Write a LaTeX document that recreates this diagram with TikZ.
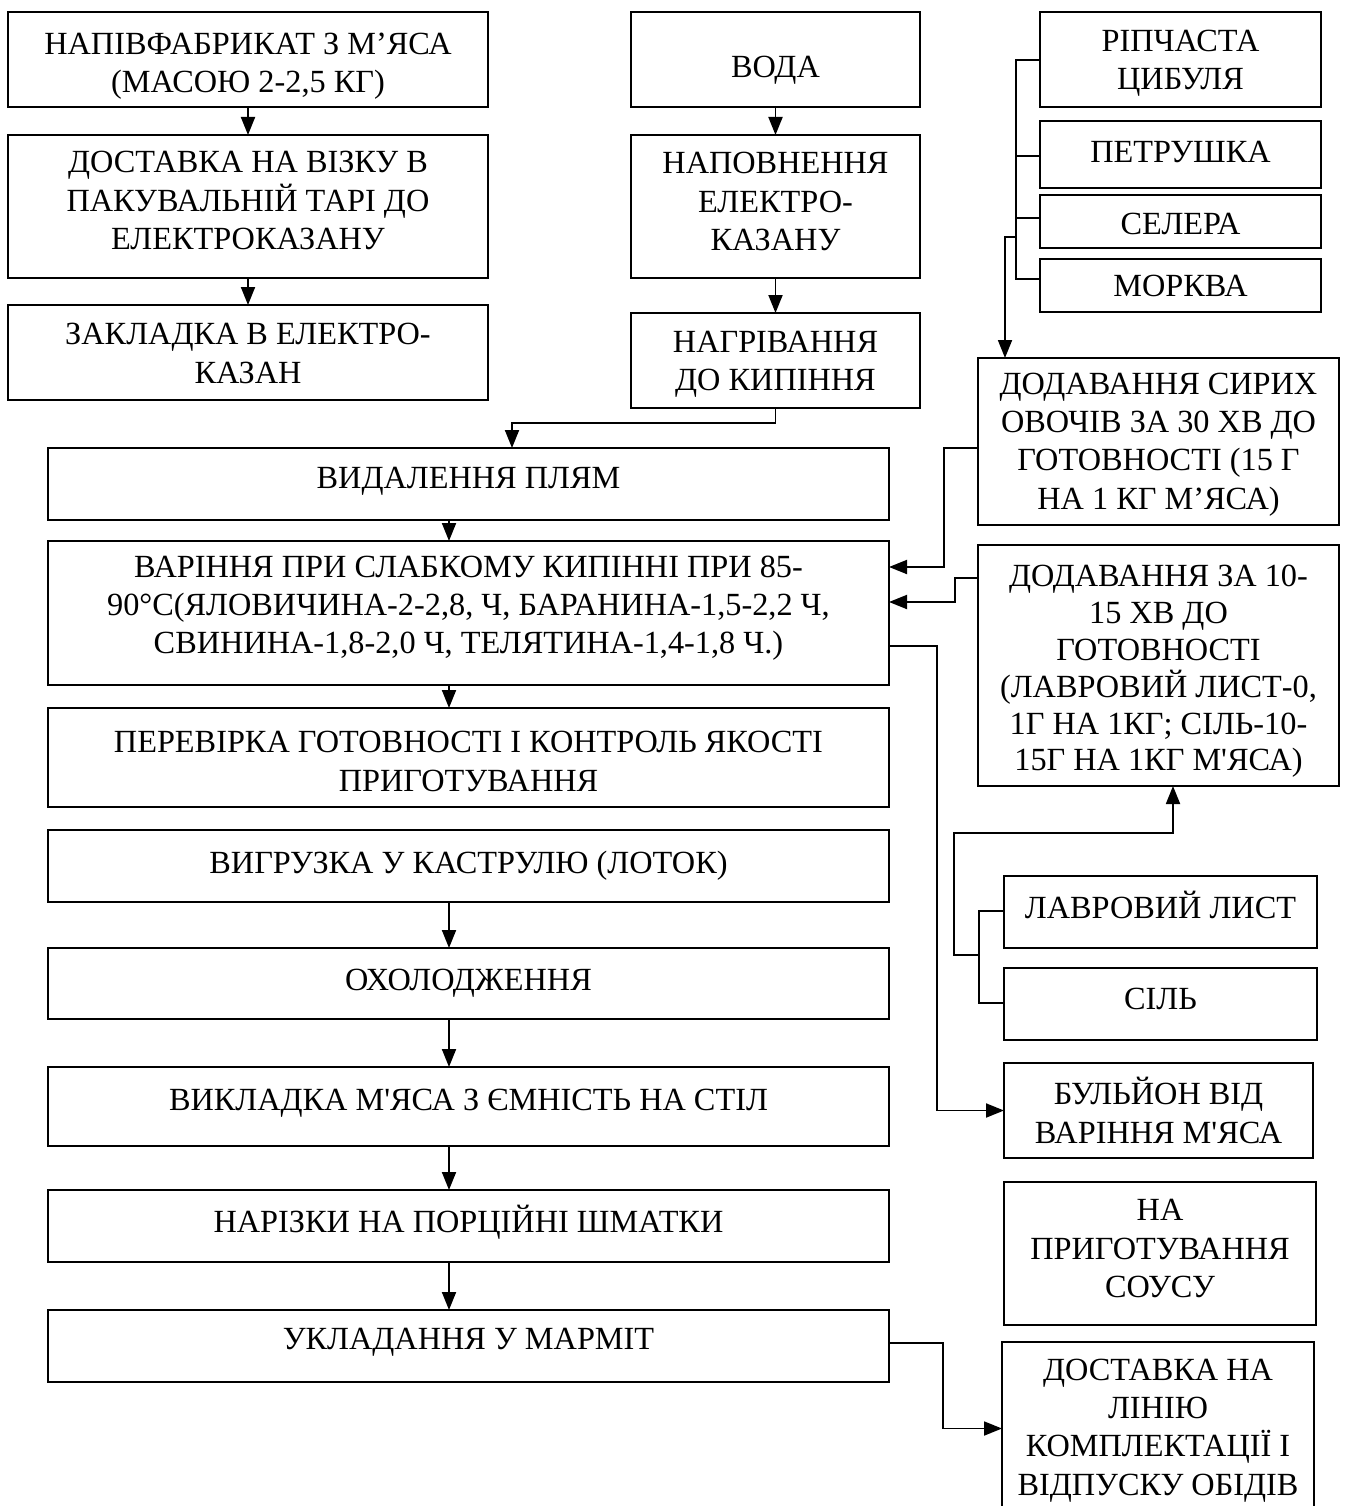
\documentclass[tikz,border=0pt]{standalone}
\usepackage{fontspec}
\setmainfont{Liberation Serif}[Ligatures=TeXOff]
\usetikzlibrary{arrows.meta}
\tikzset{
  box/.style={draw, line width=1.9pt, outer sep=0pt, inner sep=0pt},
  boxtext/.style={align=center, inner sep=0pt, font=\fontsize{32.3}{38.3}\selectfont},
  conn/.style={line width=1.9pt},
  arr/.style={conn, -{Triangle[length=18pt,width=14pt]}},
}
% \mybox[text shift down]{name}{x1}{y1}{x2}{y2}{text}
\newcommand{\mybox}[7][0]{%
  \pgfmathsetmacro{\bxw}{#5-#3}%
  \pgfmathsetmacro{\bxh}{#6-#4}%
  \node[box, minimum width=\bxw pt, minimum height=\bxh pt, anchor=north west] (#2) at (#3,#4) {};
  \node[boxtext, yshift=-#1pt] (#2t) at (#2.center) {#7};}
\begin{document}
\begin{tikzpicture}[x=1pt,y=-1pt]
\useasboundingbox (0,0) rectangle (1347,1506);
\fill[white] (0,0) rectangle (1347,1506);
\clip (0,0) rectangle (1347,1506);
% left column
\mybox[7]{A1}{8}{12}{488}{107}{НАПІВФАБРИКАТ З М’ЯСА\\(МАСОЮ 2-2,5 КГ)}
\mybox[-6]{A2}{8}{135}{488}{278}{ДОСТАВКА НА ВІЗКУ В\\ПАКУВАЛЬНІЙ ТАРІ ДО\\ЕЛЕКТРОКАЗАНУ}
\mybox[1]{A3}{8}{305}{488}{400}{ЗАКЛАДКА В ЕЛЕКТРО-\\КАЗАН}
% middle column
\mybox[11]{B1}{631}{12}{920}{107}{ВОДА}
\mybox[-5]{B2}{631}{135}{920}{278}{НАПОВНЕННЯ\\ЕЛЕКТРО-\\КАЗАНУ}
\mybox[4]{B3}{631}{313}{920}{408}{НАГРІВАННЯ\\ДО КИПІННЯ}
% main column
\mybox[-3]{C1}{48}{448}{889}{520}{ВИДАЛЕННЯ ПЛЯМ}
\mybox[-5]{C2}{48}{541}{889}{685}{ВАРІННЯ ПРИ СЛАБКОМУ КИПІННІ ПРИ 85-\\90°С(ЯЛОВИЧИНА-2-2,8, Ч, БАРАНИНА-1,5-2,2 Ч,\\СВИНИНА-1,8-2,0 Ч, ТЕЛЯТИНА-1,4-1,8 Ч.)}
\mybox[4]{C3}{48}{708}{889}{807}{ПЕРЕВІРКА ГОТОВНОСТІ І КОНТРОЛЬ ЯКОСТІ\\ПРИГОТУВАННЯ}
\mybox{C4}{48}{830}{889}{902}{ВИГРУЗКА У КАСТРУЛЮ (ЛОТОК)}
\mybox{C5}{48}{948}{889}{1019}{ОХОЛОДЖЕННЯ}
\mybox[-3]{C6}{48}{1067}{889}{1146}{ВИКЛАДКА М'ЯСА З ЄМНІСТЬ НА СТІЛ}
\mybox[-4]{C7}{48}{1190}{889}{1262}{НАРІЗКИ НА ПОРЦІЙНІ ШМАТКИ}
\mybox[-4]{C8}{48}{1310}{889}{1382}{УКЛАДАННЯ У МАРМІТ}
% right column
\mybox[4]{V1}{1040}{12}{1321}{107}{РІПЧАСТА\\ЦИБУЛЯ}
\mybox[-3]{V2}{1040}{121}{1321}{188}{ПЕТРУШКА}
\mybox[2]{V3}{1040}{195}{1321}{248}{СЕЛЕРА}
\mybox{V4}{1040}{259}{1321}{312}{МОРКВА}
\mybox[3]{D1}{978}{358}{1339}{525}{ДОДАВАННЯ СИРИХ\\ОВОЧІВ ЗА 30 ХВ ДО\\ГОТОВНОСТІ (15 Г\\НА 1 КГ М’ЯСА)}
\mybox[6]{D2}{978}{545}{1339}{786}{ДОДАВАННЯ ЗА 10-\\[-1.5pt]15 ХВ ДО\\[-1.5pt]ГОТОВНОСТІ\\[-1.5pt](ЛАВРОВИЙ ЛИСТ-0,\\[-1.5pt]1Г НА 1КГ; СІЛЬ-10-\\[-1.5pt]15Г НА 1КГ М'ЯСА)}
\mybox[-7]{L1}{1004}{876}{1317}{948}{ЛАВРОВИЙ ЛИСТ}
\mybox[-5]{L2}{1004}{968}{1317}{1040}{СІЛЬ}
\mybox{BU}{1004}{1063}{1313}{1158}{БУЛЬЙОН ВІД\\ВАРІННЯ М'ЯСА}
\mybox[-5]{S}{1004}{1182}{1316}{1325}{НА\\ПРИГОТУВАННЯ\\СОУСУ}
\mybox[2]{DL}{1002}{1342}{1314}{1515}{ДОСТАВКА НА\\ЛІНІЮ\\КОМПЛЕКТАЦІЇ І\\ВІДПУСКУ ОБІДІВ}
% helper coordinates
\coordinate (ax) at (449,0);
\coordinate (k1) at (512,423);
\coordinate (s1) at (1016,60);
\coordinate (s2) at (1016,156);
\coordinate (s3) at (1016,218);
\coordinate (s4) at (1016,279);
\coordinate (vj) at (1016,237);
\coordinate (dx) at (1005,0);
\coordinate (j1) at (944,448);
\coordinate (t1) at (0,567);
\coordinate (j2) at (955,578);
\coordinate (t2) at (0,602);
\coordinate (j3) at (937,646);
\coordinate (l1) at (979,911);
\coordinate (l2) at (979,1003);
\coordinate (lj) at (979,955);
\coordinate (lk) at (954,833);
\coordinate (ux) at (1173,0);
\coordinate (j4) at (943,1343);
% connectors
\draw[arr] (A1) -- (A2);
\draw[arr] (A2) -- (A3);
\draw[arr] (B1) -- (B2);
\draw[arr] (B2) -- (B3);
\draw[arr] (B3.south) |- (k1) -- (k1 |- C1.north);
\draw[arr] (C1.south -| ax) -- (C2.north -| ax);
\draw[arr] (C2.south -| ax) -- (C3.north -| ax);
\draw[arr] (C4.south -| ax) -- (C5.north -| ax);
\draw[arr] (C5.south -| ax) -- (C6.north -| ax);
\draw[arr] (C6.south -| ax) -- (C7.north -| ax);
\draw[arr] (C7.south -| ax) -- (C8.north -| ax);
% vegetables bracket
\draw[conn] (s1 -| V1.west) -- (s1) -- (s4) -- (s4 -| V4.west);
\draw[conn] (s2 -| V2.west) -- (s2);
\draw[conn] (s3 -| V3.west) -- (s3);
\draw[arr] (vj) -| (dx |- D1.north);
% additions to cooking
\draw[arr] (j1 -| D1.west) -- (j1) |- (t1 -| C2.east);
\draw[arr] (j2 -| D2.west) -- (j2) |- (t2 -| C2.east);
\draw[arr] (j3 -| C2.east) -- (j3) |- (BU.west);
% bay leaf / salt bracket
\draw[conn] (l1 -| L1.west) -- (l1) -- (l2) -- (l2 -| L2.west);
\draw[arr] (lj) -| (lk) -| (ux |- D2.south);
% delivery
\draw[arr] (j4 -| C8.east) -- (j4) |- (DL.west);
\end{tikzpicture}
\end{document}
